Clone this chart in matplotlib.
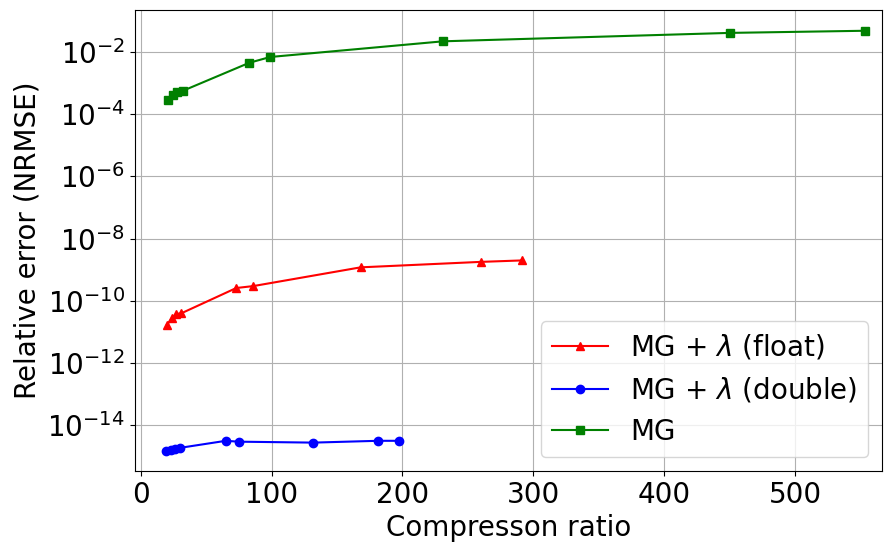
import numpy as np
import matplotlib.pyplot as plt

x_float = [20, 24, 27, 31, 73, 86, 168, 260, 291]
y_float = [1.7e-11, 2.8e-11, 3.8e-11, 4.0e-11, 2.6e-10, 3.0e-10, 1.2e-9, 1.8e-9, 2.0e-9]

x_double = [19, 23, 26, 30, 65, 75, 132, 181, 197]
y_double = [1.5e-15, 1.6e-15, 1.7e-15, 1.9e-15, 3.2e-15, 3.0e-15, 2.8e-15, 3.2e-15, 3.2e-15]

x_mg = [21, 25, 28, 32, 83, 99, 231, 450, 553]
y_mg = [2.9e-4, 4.2e-4, 5.0e-4, 5.6e-4, 4.5e-3, 6.9e-3, 2.2e-2, 4.1e-2, 4.8e-2]

fig = plt.figure(figsize=(8.92, 5.53), dpi=100)
ax = fig.add_axes([0.151, 0.148, 0.838, 0.834])

ax.plot(x_float, y_float, '-^', color='red', label=r'MG + $\lambda$ (float)')
ax.plot(x_double, y_double, '-o', color='blue', label=r'MG + $\lambda$ (double)')
ax.plot(x_mg, y_mg, '-s', color='green', label='MG')

ax.set_yscale('log')
ax.set_xlim(-4.6, 566.5)
ax.set_ylim(10**-15.47, 10**-0.65)
ax.set_yticks([10.0**k for k in range(-14, -1, 2)])
ax.minorticks_off()
ax.tick_params(labelsize=20)
ax.set_xlabel('Compresson ratio', fontsize=20)
ax.set_ylabel('Relative error (NRMSE)', fontsize=20)
ax.grid(True)
ax.legend(fontsize=20, loc='lower right')

fig.savefig('out.png', dpi=100)
